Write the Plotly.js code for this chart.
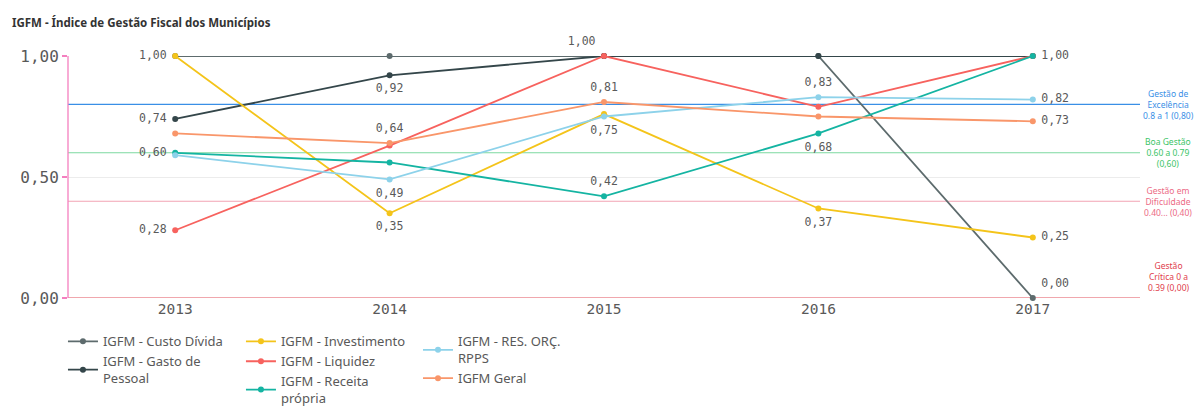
<!DOCTYPE html>
<html><head><meta charset="utf-8">
<script src="https://cdn.plot.ly/plotly-3.0.1.min.js"></script>
<style>html,body{margin:0;padding:0;background:#fff;}#chart{width:1197px;height:406px;}</style>
</head><body><div id="chart"></div>
<script>
// ---- data ----
const years = ['2013','2014','2015','2016','2017'];
const seriesNames = ['IGFM - Custo Dívida','IGFM - Gasto de<br>Pessoal','IGFM - Investimento','IGFM - Liquidez','IGFM - Receita<br>própria','IGFM - RES. ORÇ.<br>RPPS','IGFM Geral'];
const custoDivida    = [1.00, 1.00, 1.00, 1.00, 0.00];
const gastoPessoal   = [0.74, 0.92, 1.00, 1.00, 1.00];
const investimento   = [1.00, 0.35, 0.76, 0.37, 0.25];
const liquidez       = [0.28, 0.63, 1.00, 0.79, 1.00];
const receitaPropria = [0.60, 0.56, 0.42, 0.68, 1.00];
const resOrcRpps     = [0.59, 0.49, 0.75, 0.83, 0.82];
const igfmGeral      = [0.68, 0.64, 0.81, 0.75, 0.73];
const refValues = [0.8, 0.6, 0.4, 0.0];
const refLabels = ['Gestão de<br>Excelência<br>0.8 a 1 (0,80)','Boa Gestão<br>0.60 a 0.79<br>(0,60)','Gestão em<br>Dificuldade<br>0.40... (0,40)','Gestão<br>Crítica 0 a<br>0.39 (0,00)'];

// ---- styling ----
const allSeries = [custoDivida, gastoPessoal, investimento, liquidez, receitaPropria, resOrcRpps, igfmGeral];
const colors = ['#5d6b6d','#34464a','#f4c41a','#f7625e','#14b4a2','#8dd2ea','#f9966a'];
const legendOf = ['legend','legend','legend2','legend2','legend2','legend3','legend3'];
// which points carry a value label, and where
const labelPos = [
  ['middle left','', 'top left','', 'top right'],
  ['middle left','bottom center','','',''],
  ['','bottom center','','bottom center','middle right'],
  ['middle left','','','','middle right'],
  ['middle left','','top center','bottom center',''],
  ['','bottom center','bottom center','top center','middle right'],
  ['','top center','top center','','middle right']
];
const refColors = ['#3a8fe6','#7dd9a0','#f2a3b3','#e2505c'];
const refTextColors = ['#3a8fe6','#3cc466','#ec6a85','#e0404c'];

const fmt = v => v.toFixed(2).replace('.', ',');
const traces = [];
allSeries.forEach((vals, i) => {
  traces.push({
    type:'scatter', mode:'lines+markers', x: years, y: vals, name: seriesNames[i],
    line:{color: colors[i], width: 1.8}, marker:{color: colors[i], size: 6},
    legend: legendOf[i], cliponaxis:false, hoverinfo:'skip'
  });
});
allSeries.forEach((vals, i) => {
  const xs=[], ys=[], ts=[], ps=[];
  vals.forEach((v, j) => { if (labelPos[i][j]) { xs.push(years[j]); ys.push(v); ts.push(fmt(v)); ps.push(labelPos[i][j]); } });
  traces.push({
    type:'scatter', mode:'markers+text', x: xs, y: ys, text: ts, textposition: ps,
    marker:{size:12, opacity:0},
    textfont:{family:'DejaVu Sans Mono', size:11.5, color:'#5a5a5a'},
    showlegend:false, cliponaxis:false, hoverinfo:'skip'
  });
});

const shapes = refValues.map((v, i) => ({
  type:'line', xref:'paper', x0:0, x1:1, yref:'y', y0:v, y1:v,
  line:{color: refColors[i], width: 1.1}, layer:'below'
}));
shapes.push({type:'line', xref:'paper', x0:0, x1:0, yref:'y', y0:0, y1:1, line:{color:'#f47fbf', width:1.3}});

const annotations = refValues.map((v, i) => ({
  xref:'paper', x:1.0, xanchor:'center', xshift:28, yref:'y', y: i===3 ? 0.09 : v, yanchor:'middle',
  text: refLabels[i], showarrow:false, align:'center',
  font:{family:'Noto Sans', size:8.5, color: refTextColors[i]}
}));
annotations.push({
  xref:'paper', yref:'paper', x:-0.054, y:1.14, xanchor:'left', yanchor:'middle', showarrow:false,
  text:'<b>IGFM - Índice de Gestão Fiscal dos Municípios</b>',
  font:{family:'Noto Sans', size:11.5, color:'#333333'}
});

const legendBase = {orientation:'v', xref:'container', yref:'container', yanchor:'top', y:0.196, xanchor:'left', bgcolor:'rgba(0,0,0,0)',
  font:{family:'Noto Sans', size:13, color:'#595959'}, tracegroupgap:0, itemwidth:30, valign:'middle'};

const layout = {
  width:1197, height:406,
  margin:{l:68, r:57, t:56, b:108, autoexpand:false},
  paper_bgcolor:'#fff', plot_bgcolor:'#fff',
  separators:',.',
  xaxis:{type:'category', range:[-0.5,4.5], showgrid:false, zeroline:false, showline:false, ticks:'',
    tickfont:{family:'DejaVu Sans Mono', size:14.5, color:'#595959'}, fixedrange:true},
  yaxis:{range:[0,1], tickvals:[0,0.5,1], tickformat:'.2f', showgrid:true, gridcolor:'#ececec', gridwidth:1,
    zeroline:false, showline:false, ticks:'outside', ticklen:5, tickcolor:'#f47fbf', tickwidth:1.3,
    tickfont:{family:'DejaVu Sans Mono', size:16, color:'#595959'}, fixedrange:true},
  shapes: shapes, annotations: annotations,
  legend: Object.assign({}, legendBase, {x:0.0526}),
  legend2: Object.assign({}, legendBase, {x:0.2013}),
  legend3: Object.assign({}, legendBase, {x:0.3492}),
  showlegend:true
};
Plotly.newPlot('chart', traces, layout, {displayModeBar:false, staticPlot:true});
</script></body></html>
